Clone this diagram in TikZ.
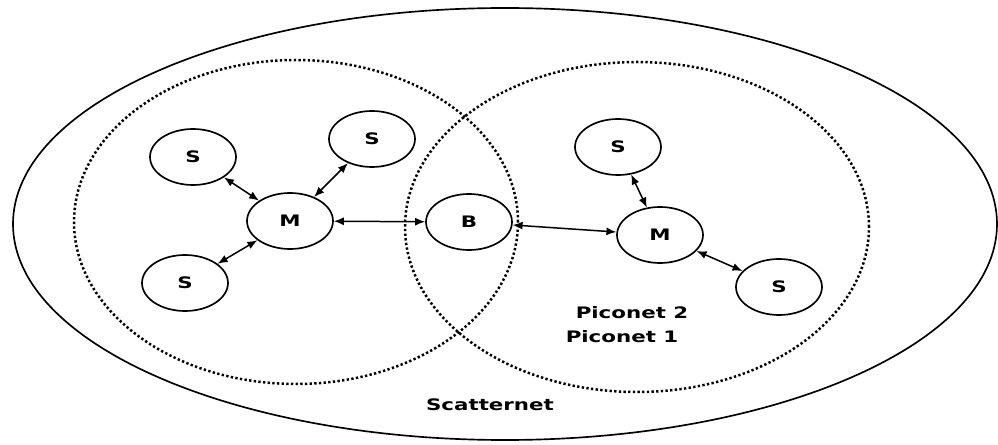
\documentclass[tikz,border=0pt]{standalone}
\usepackage{fontspec}
\usepackage{graphicx}
\setmainfont{DejaVu Sans}
\usetikzlibrary{shapes.geometric,arrows.meta,positioning}
\newcommand{\wtxt}[1]{\scalebox{1.35}[1]{#1}}
\begin{document}
\begin{tikzpicture}[x=0.3mm,y=-0.3mm,
	dev/.style={draw,ellipse,line width=0.5mm,minimum width=25.8mm,minimum height=16.8mm,inner sep=0pt,font=\bfseries\fontsize{13.5}{15}\selectfont},
	link/.style={{Latex[length=3mm,width=2.4mm]}-{Latex[length=3mm,width=2.4mm]},line width=0.45mm},
	piconet/.style={line width=0.75mm,dash pattern=on 0.7mm off 0.7mm},
	netlabel/.style={font=\bfseries\fontsize{13.5}{15}\selectfont}]

	\useasboundingbox (0,0) rectangle (998,445);

	% scatternet and the two piconets
	\draw[line width=0.5mm] (505,224) ellipse [x radius=147.6mm, y radius=64.8mm];
	\draw[piconet] (296,222) ellipse [x radius=66.6mm, y radius=48.6mm];
	\draw[piconet] (637,227) ellipse [x radius=69.6mm, y radius=49.5mm];

	% piconet 1
	\node(m1)[dev] at (290,221) {\wtxt{M}};
	\node(s11)[dev] at (193,157) {\wtxt{S}};
	\node(s12)[dev] at (372,139) {\wtxt{S}};
	\node(s13)[dev] at (185,283) {\wtxt{S}};

	% bridge
	\node(b)[dev] at (469,222) {\wtxt{B}};

	% piconet 2
	\node(m2)[dev] at (660,235) {\wtxt{M}};
	\node(s21)[dev] at (618,147) {\wtxt{S}};
	\node(s22)[dev] at (779,287) {\wtxt{S}};

	\draw[link] (s11) -- (m1);
	\draw[link] (s12) -- (m1);
	\draw[link] (s13) -- (m1);
	\draw[link] (m1) -- (b);
	\draw[link] (b) -- (m2);
	\draw[link] (s21) -- (m2);
	\draw[link] (s22) -- (m2);

	\node(pico2)[netlabel] at (632,313) {\wtxt{Piconet 2}};
	\node(pico1)[netlabel] at (622,337) {\wtxt{Piconet 1}};
	\node(scatter)[netlabel] at (490,405) {\wtxt{Scatternet}};

\end{tikzpicture}
\end{document}
